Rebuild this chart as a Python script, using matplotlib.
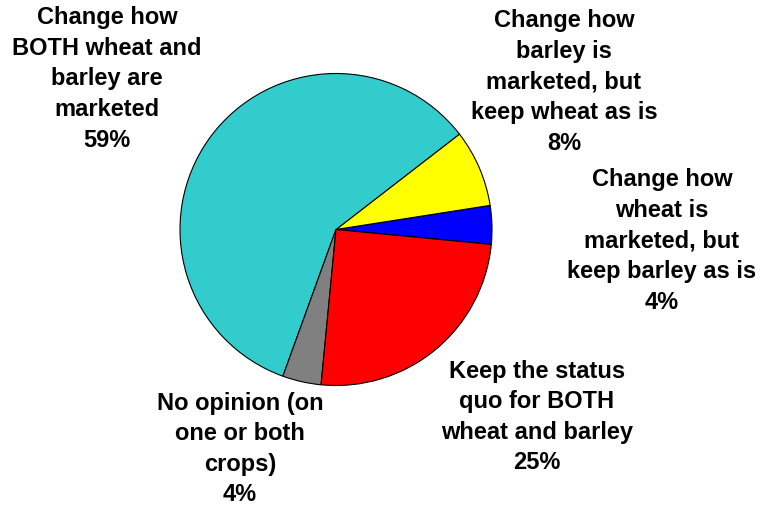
import matplotlib.pyplot as plt

# survey shares, counter-clockwise from just below 3 o'clock
labels = ['Change how\nwheat is\nmarketed, but\nkeep barley as is',
          'Change how\nbarley is\nmarketed, but\nkeep wheat as is',
          'Change how\nBOTH wheat and\nbarley are\nmarketed',
          'No opinion (on\none or both\ncrops)',
          'Keep the status\nquo for BOTH\nwheat and barley']
shares = [4, 8, 59, 4, 25]
colors = ['#0000FF', '#FFFF00', '#33CCCC', '#808080', '#FF0000']

# label block centres in pixel space (x, y from top)
label_pos = [(662, 241), (564, 82), (107, 79), (240, 449), (537, 417)]

W, H = 761, 505
fig = plt.figure(figsize=(W / 100, H / 100), dpi=100)
ax = fig.add_axes([0, 0, 1, 1])

ax.pie(shares, colors=colors, startangle=-5.5, counterclock=True,
       center=(336, H - 229.5), radius=156,
       wedgeprops=dict(edgecolor='black', linewidth=0.8))

for lab, val, (x, y) in zip(labels, shares, label_pos):
    ax.text(x, H - y, lab + '\n%d%%' % val, ha='center', va='center',
            fontsize=17, fontweight='bold', family='Liberation Sans',
            linespacing=1.42)

ax.set_xlim(0, W)
ax.set_ylim(0, H)
ax.set_aspect('equal')
ax.axis('off')

plt.savefig('out.png', dpi=100)
